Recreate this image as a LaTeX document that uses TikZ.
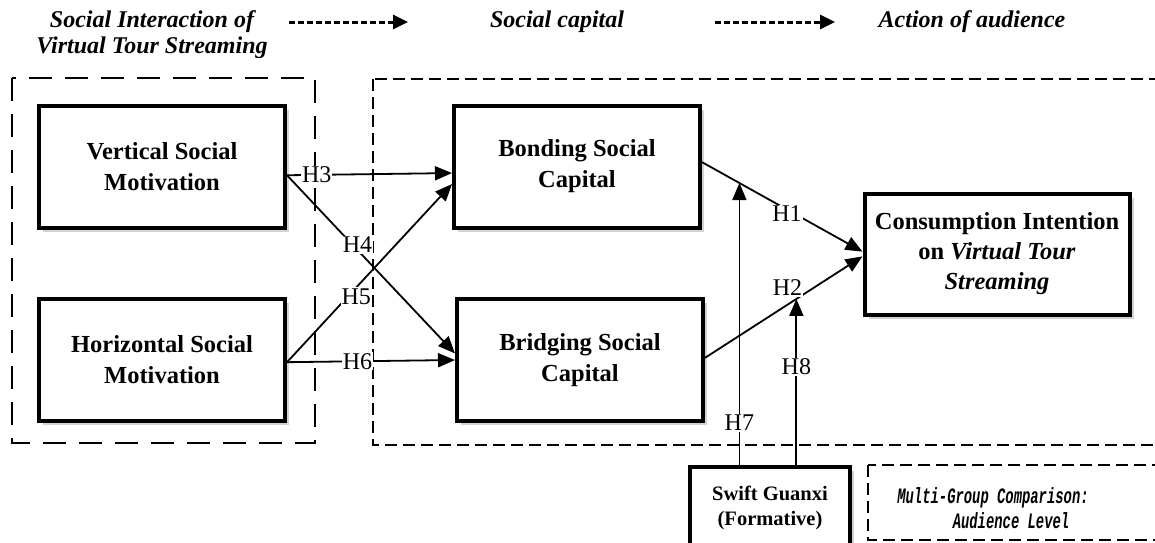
\documentclass[tikz,border=0pt]{standalone}
\usepackage{fontspec}
\setmainfont{Liberation Serif}
\newfontfamily\groupfont[FakeStretch=0.63]{Liberation Mono}
\usetikzlibrary{arrows.meta,shadows}

\begin{document}
\begin{tikzpicture}[x=1pt,y=-1pt,
      every node/.style={align=center},
      construct/.style={draw,line width=4pt,fill=white,inner sep=2pt,
        minimum width=246pt,minimum height=122pt,
        font=\fontsize{24.5}{31}\selectfont\bfseries,
        drop shadow={shadow xshift=4pt,shadow yshift=-4pt,opacity=0.35}},
      outcome/.style={construct,minimum width=265pt,minimum height=121pt,
        font=\fontsize{24.5}{30}\selectfont\bfseries},
      moderator/.style={construct,minimum width=160pt,minimum height=82pt,
        font=\fontsize{20.5}{25}\selectfont\bfseries},
      heading/.style={font=\fontsize{24}{26}\selectfont\bfseries\itshape},
      grouptext/.style={font=\groupfont\bfseries\itshape\fontsize{22}{25}\selectfont},
      region/.style={line width=1.4pt,dash pattern=on 23pt off 13pt},
      subregion/.style={line width=1.3pt,dash pattern=on 12pt off 6pt},
      path/.style={line width=1.8pt,-{Triangle[length=17pt,width=14pt]}},
      flow/.style={line width=3pt,dash pattern=on 5.5pt off 3.5pt,
        -{Triangle[length=15pt,width=14pt]}},
      hyp/.style={fill=white,inner sep=1pt,font=\fontsize{24}{24}\selectfont}]
      \useasboundingbox (0,0) rectangle (1155,542);
      % headings along the top
      \node[heading] (socint) at (152,35) {Social Interaction of\\Virtual Tour Streaming};
      \node[heading] (soccap) at (557,22) {Social capital};
      \node[heading] (action) at (972,22) {Action of audience};
      \coordinate (f1s) at (289,22);
      \coordinate (f1e) at (408,22);
      \coordinate (f2s) at (715,22);
      \coordinate (f2e) at (835,22);
      \draw[flow] (f1s)--(f1e);
      \draw[flow] (f2s)--(f2e);
      % dashed regions
      \draw[region] (12,78) rectangle (315,443);
      \draw[subregion] (373,79) rectangle (1175,445);
      \draw[subregion] (868,465) rectangle (1175,540);
      \node[grouptext] (multi) at (993,508) {Multi-Group Comparison:\\\hspace*{36pt}Audience Level};
      % constructs
      \node[construct] (vert) at (162,166.5) {Vertical Social\\Motivation};
      \node[construct] (horiz) at (162,360) {Horizontal Social\\Motivation};
      \node[construct] (bond) at (577,166.5) {Bonding Social\\Capital};
      \node[construct] (bridge) at (580,360) {Bridging Social\\Capital};
      \node[outcome] (cons) at (997,254) {Consumption Intention\\on \textit{Virtual Tour}\\\textit{Streaming}};
      \node[moderator] (swift) at (770,508) {Swift Guanxi\\(Formative)};
      % hypotheses
      \draw[path] (vert.-4)--node[hyp,pos=0.18]{H3}(bond.183);
      \draw[path] (vert.-4)--node[hyp,pos=0.42,yshift=5pt]{H4}(bridge.177);
      \draw[path] (horiz.-1)--node[hyp,pos=0.42,yshift=-9pt]{H5}(bond.188);
      \draw[path] (horiz.-1)--node[hyp,pos=0.42]{H6}(bridge.180);
      \draw[path] (bond.2)--coordinate[pos=0.233](m7) node[hyp,pos=0.53,yshift=-4pt]{H1}(cons.179);
      \draw[path] (bridge.1)--coordinate[pos=0.58](m8) node[hyp,pos=0.6,xshift=-12pt,yshift=9pt]{H2}(cons.181);
      \draw[path] (m7 |- swift.north)--node[hyp,pos=0.15]{H7}(m7);
      \draw[path] (m8 |- swift.north)--node[hyp,pos=0.59]{H8}(m8);
    \end{tikzpicture}
\end{document}
